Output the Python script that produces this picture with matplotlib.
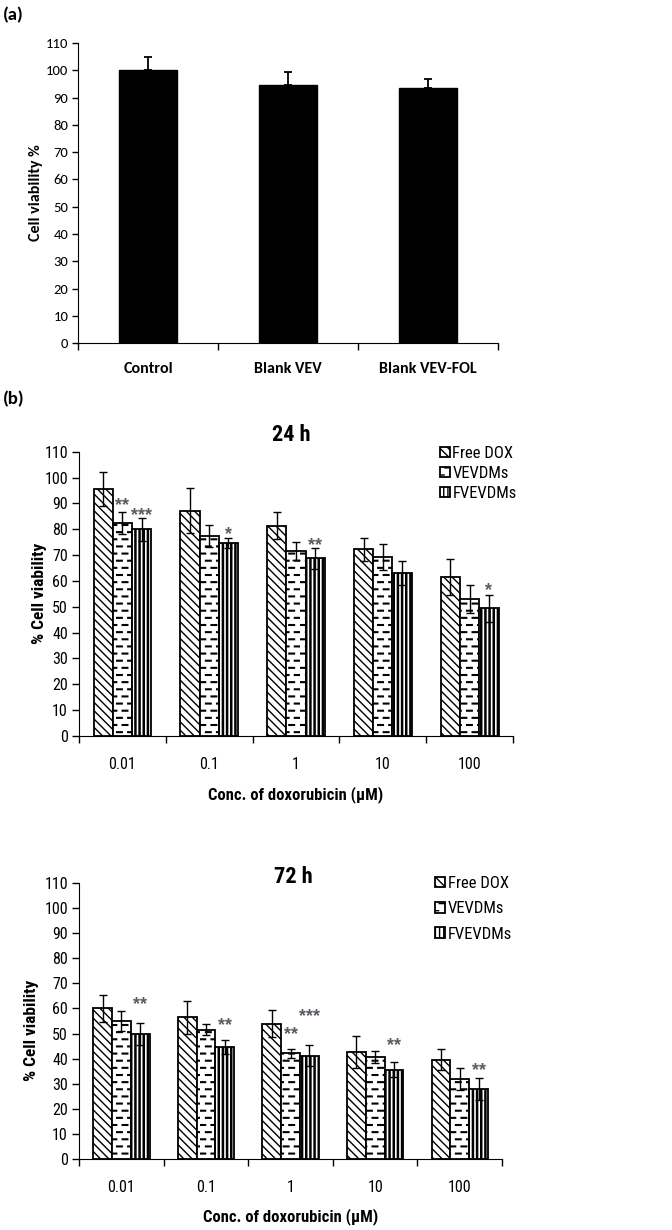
import numpy as np
import matplotlib
matplotlib.use('Agg')
import matplotlib.pyplot as plt
from matplotlib import hatch as mhatch
from matplotlib.path import Path

# ---- data ----
blank_groups = ['Control', 'Blank VEV', 'Blank VEV-FOL']
blank_mean = [100.0, 94.7, 93.7]
blank_err = [5.0, 4.6, 3.3]

conc = ['0.01', '0.1', '1', '10', '100']
series = ['Free DOX', 'VEVDMs', 'FVEVDMs']

dox24 = [95.6, 87.2, 81.4, 72.2, 61.4]
dox24_err = [6.6, 8.6, 5.1, 4.5, 6.9]
vev24 = [82.3, 77.4, 71.7, 69.1, 52.9]
vev24_err = [4.2, 4.1, 3.5, 5.0, 5.5]
fvev24 = [80.0, 74.8, 68.7, 63.2, 49.4]
fvev24_err = [4.5, 1.9, 3.9, 4.6, 5.3]

dox72 = [60.0, 56.5, 53.9, 42.7, 39.6]
dox72_err = [5.2, 6.6, 5.4, 6.5, 4.1]
vev72 = [55.1, 51.5, 42.2, 40.6, 31.9]
vev72_err = [4.0, 2.2, 1.8, 2.5, 4.4]
fvev72 = [49.9, 44.7, 41.2, 35.5, 27.9]
fvev72_err = [4.4, 2.7, 4.2, 3.0, 4.3]

# significance marks: (concentration index, series index, text, height)
stars24 = [(0, 1, '**', 91.3), (0, 2, '***', 87.4), (1, 2, '*', 80.3),
           (2, 2, '**', 76.1), (4, 2, '*', 58.4)]
stars72 = [(0, 2, '**', 64.0), (1, 2, '**', 55.4), (2, 1, '**', 52.1),
           (2, 2, '***', 59.1), (3, 2, '**', 47.4), (4, 2, '**', 37.5)]


# staggered short horizontal dashes (takes over the 'o' hatch symbol)
class DashHatch(mhatch.HatchPatternBase):
    def __init__(self, hatch, density):
        n = hatch.count('o')
        self.rows = 14 * n
        self.cols = 9 * n
        self.num_vertices = self.rows * self.cols * 2

    def set_vertices_and_codes(self, vertices, codes):
        half = 0.22 / self.cols
        k = 0
        for r in range(self.rows):
            y = (r + 0.5) / self.rows
            shift = 0.25 if r % 2 == 0 else 0.75
            for c in range(self.cols):
                xc = (c + shift) / self.cols
                vertices[k] = (xc - half, y)
                vertices[k + 1] = (xc + half, y)
                codes[k] = Path.MOVETO
                codes[k + 1] = Path.LINETO
                k += 2


mhatch._hatch_types = [DashHatch if t is mhatch.SmallCircles else t
                       for t in mhatch._hatch_types]

plt.rcParams['hatch.color'] = 'black'
plt.rcParams['hatch.linewidth'] = 1.0
narrow = ['Roboto Condensed', 'IBM Plex Sans Condensed', 'Liberation Sans']
calib = ['Carlito', 'Lato', 'DejaVu Sans']
plt.rcParams['font.family'] = narrow

hatches = ['\\\\\\\\', 'o', '||||']
hatch_lw = [1.0, 1.5, 1.8]

fig = plt.figure(figsize=(6.72, 12.30), dpi=100)

# ---------------- panel (a) ----------------
ax_a = fig.add_axes([0.116, 0.7211, 0.625, 0.2439])
xa = np.arange(len(blank_groups))
ax_a.bar(xa, blank_mean, width=0.41, color='black', edgecolor='black',
         yerr=[np.zeros(len(blank_err)), blank_err],
         error_kw=dict(ecolor='black', elinewidth=1.3, capsize=3, capthick=1.3))
ax_a.set_ylim(0, 110)
ax_a.set_xlim(-0.5, len(blank_groups) - 0.5)
ax_a.set_yticks(np.arange(0, 111, 10))
ax_a.set_xticks(np.arange(-0.5, len(blank_groups), 1.0))
ax_a.set_xticklabels([])
ax_a.set_xticks(xa, minor=True)
ax_a.set_xticklabels(blank_groups, minor=True, fontfamily=calib,
                     fontweight='bold', fontsize=11.5)
ax_a.tick_params(axis='x', which='minor', length=0, pad=14)
ax_a.tick_params(axis='x', which='major', length=5, width=1, direction='out')
ax_a.tick_params(axis='y', length=4, width=1, direction='out', pad=3)
for lab in ax_a.get_yticklabels():
    lab.set_fontfamily(calib)
    lab.set_fontsize(10.5)
ax_a.set_ylabel('Cell viability %', fontfamily=calib, fontweight='bold',
                fontsize=11.5)
ax_a.yaxis.set_label_coords(-0.083, 0.5)
for s in ['top', 'right']:
    ax_a.spines[s].set_visible(False)

fig.text(0.005, 1 - 15 / 1230, '(a)', fontfamily=calib, fontweight='bold',
         fontsize=13.5, va='center', ha='left')
fig.text(0.005, 1 - 399 / 1230, '(b)', fontfamily=calib, fontweight='bold',
         fontsize=13.5, va='center', ha='left')


# ---------------- panels (b) ----------------
def draw_panel(rect, means, errs, stars, title, title_xy, ylab_x, ylab_y,
               leg_xy, leg_space):
    ax = fig.add_axes(rect)
    x = np.arange(len(conc))
    w = 0.222
    for i, (m, e) in enumerate(zip(means, errs)):
        bars = ax.bar(x + (i - 1) * w, m, width=w, color='white',
                      edgecolor='black', linewidth=1.3, hatch=hatches[i],
                      label=series[i], yerr=e,
                      error_kw=dict(ecolor='black', elinewidth=1.0,
                                    capsize=3, capthick=1.0))
        for b in bars:
            if hasattr(b, 'set_hatch_linewidth'):
                b.set_hatch_linewidth(hatch_lw[i])
    for ci, si, txt, yv in stars:
        ax.annotate(txt, (x[ci] + (si - 1) * w, yv), xytext=(0, -7.5),
                    textcoords='offset points', ha='center', va='baseline',
                    fontsize=13, fontweight='bold', color='#5a5b63',
                    fontfamily='Liberation Sans')
    ax.set_ylim(0, 110)
    ax.set_xlim(-0.5, len(conc) - 0.5)
    ax.set_yticks(np.arange(0, 111, 10))
    ax.set_xticks(np.arange(-0.5, len(conc), 1.0))
    ax.set_xticklabels([])
    ax.set_xticks(x, minor=True)
    ax.set_xticklabels(conc, minor=True, fontsize=11.5)
    ax.tick_params(axis='x', which='minor', length=0, pad=15)
    ax.tick_params(axis='x', which='major', length=5, width=1, direction='out')
    ax.tick_params(axis='y', length=5, width=1, direction='out', pad=3,
                   labelsize=11.5)
    for s in ['top', 'right']:
        ax.spines[s].set_visible(False)
    ax.set_ylabel('% Cell viability', fontweight='bold', fontsize=12.5)
    ax.yaxis.set_label_coords(ylab_x, ylab_y)
    ax.set_xlabel('Conc. of doxorubicin (\u00b5M)', fontweight='bold',
                  fontsize=12)
    ax.xaxis.set_label_coords(0.5, -0.177)
    ax.text(title_xy[0], title_xy[1], title, transform=ax.transAxes,
            ha='center', va='center', fontweight='bold', fontsize=16)
    ax.legend(loc='upper left', bbox_to_anchor=leg_xy,
              bbox_transform=fig.transFigure, frameon=False, fontsize=12,
              handlelength=0.6, handleheight=0.6, handletextpad=0.15,
              labelspacing=leg_space, borderpad=0, borderaxespad=0)
    return ax


draw_panel([0.1176, 0.4016, 0.6458, 0.2312],
           [dox24, vev24, fvev24], [dox24_err, vev24_err, fvev24_err],
           stars24, '24 h', (0.49, 1.059), -0.074, 0.503,
           (440 / 672, 1 - 446 / 1230), 0.3)
draw_panel([0.1176, 0.0577, 0.6295, 0.2244],
           [dox72, vev72, fvev72], [dox72_err, vev72_err, fvev72_err],
           stars72, '72 h', (0.506, 1.023), -0.095, 0.467,
           (435 / 672, 1 - 876 / 1230), 0.62)

fig.savefig('out.png', dpi=100)
